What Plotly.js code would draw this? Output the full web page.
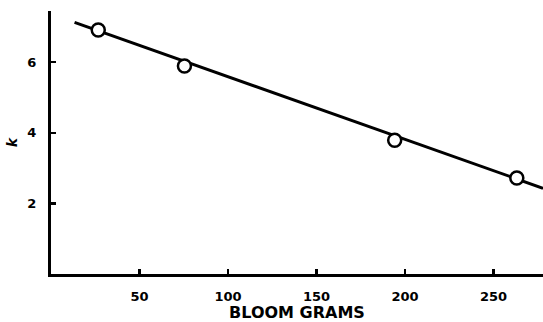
<!DOCTYPE html>
<html>
<head>
<meta charset="utf-8">
<script src="https://cdn.plot.ly/plotly-3.0.1.min.js"></script>
<style>html,body{margin:0;padding:0;background:#fff;}#chart{width:543px;height:322px;}</style>
</head>
<body>
<div id="chart"></div>
<script>
// Measured points: Bloom grams vs k
const bloomGrams = [26.7, 75.4, 194.2, 263.2];
const kValues = [6.91, 5.89, 3.79, 2.72];
// Fitted straight line (endpoints as drawn)
const fitX = [13.3, 278];
const fitY = [7.13, 2.43];
const xTicks = [50, 100, 150, 200, 250];
const yTicks = [2, 4, 6];

const font = {family: 'DejaVu Sans', size: 12, color: '#000'};

Plotly.newPlot('chart', [
  {x: fitX, y: fitY, mode: 'lines', line: {color: '#000', width: 3}, hoverinfo: 'skip'},
  {x: bloomGrams, y: kValues, mode: 'markers',
   marker: {symbol: 'circle', size: 13, color: '#fff', line: {color: '#000', width: 2.5}}}
], {
  width: 543, height: 322,
  margin: {l: 51, r: 0, t: 11, b: 48},
  paper_bgcolor: '#fff', plot_bgcolor: '#fff',
  showlegend: false,
  font: font,
  xaxis: {
    range: [0, 278], tickvals: xTicks, ticktext: xTicks.map(String),
    showgrid: false, zeroline: false,
    showline: true, linecolor: '#000', linewidth: 2.5,
    ticks: 'inside', ticklen: 5, tickwidth: 2.5, tickcolor: '#000',
    tickfont: {family: 'DejaVu Sans', size: 13, color: '#000', weight: 'bold'},
    ticklabelstandoff: 9,
    title: {text: '<b>BLOOM GRAMS</b>', font: {family: 'DejaVu Sans', size: 16, color: '#000'}, standoff: 6}
  },
  yaxis: {
    range: [0, 7.45], tickvals: yTicks, ticktext: yTicks.map(String),
    showgrid: false, zeroline: false,
    showline: true, linecolor: '#000', linewidth: 3,
    ticks: 'inside', ticklen: 5, tickwidth: 2.5, tickcolor: '#000',
    tickfont: {family: 'DejaVu Sans', size: 13, color: '#000', weight: 'bold'},
    ticklabelstandoff: 9,
    title: {text: '<b><i>k</i></b>', font: {family: 'DejaVu Sans', size: 14, color: '#000'}, standoff: 7}
  }
}, {staticPlot: true, displayModeBar: false});
</script>
</body>
</html>
